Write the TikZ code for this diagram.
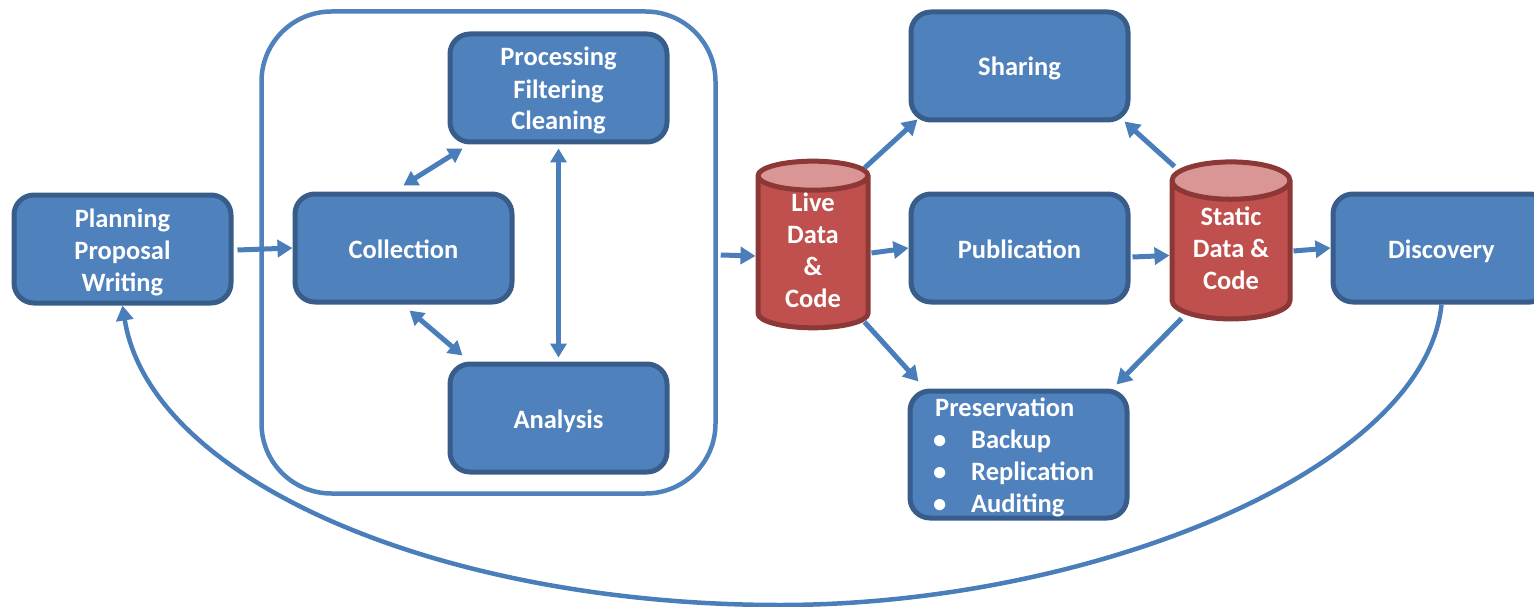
\documentclass[tikz,border=0pt]{standalone}
\usepackage{fontspec}
\setmainfont{Carlito}
\usetikzlibrary{arrows.meta,shapes.geometric}
\definecolor{boxblue}{HTML}{4F81BD}
\definecolor{boxedge}{HTML}{385D8A}
\definecolor{linkblue}{HTML}{4A7EBB}
\definecolor{drumred}{HTML}{C0504D}
\definecolor{drumedge}{HTML}{8C3836}
\definecolor{drumtop}{HTML}{D99694}
\newcommand{\firstline}{\rule{0pt}{26pt}}
\tikzset{
	stagetext/.style={text=white,inner sep=0pt,font=\fontsize{26.5}{32}\selectfont\bfseries,execute at begin node={\rule{0pt}{26pt}},execute at end node={\rule[-6pt]{0pt}{6pt}}},
	stagebox/.style={stagetext,draw=boxedge,fill=boxblue,line width=5pt,rounded corners=20pt,minimum width=217pt,minimum height=108pt,align=center},
	drum/.style={stagetext,cylinder,shape border rotate=90,draw=drumedge,line width=5pt,cylinder uses custom fill,cylinder body fill=drumred,cylinder end fill=drumtop,align=center},
	flow/.style={draw=linkblue,line width=5pt,-{Triangle[length=15pt,width=17pt]}},
	both/.style={draw=linkblue,line width=5pt,{Triangle[length=14pt,width=16pt]}-{Triangle[length=14pt,width=16pt]}},
}
\begin{document}
\begin{tikzpicture}[x=1pt,y=-1pt]
	\clip (0,0) rectangle (1534,607);
	\node[draw=boxblue,line width=4.5pt,rounded corners=70pt,minimum width=454pt,minimum height=482pt] (lifecycle) at (488.5,252.5) {};
	\node[stagebox] (planning) at (122.5,249) {\firstline Planning\\Proposal\\Writing};
	\node[stagebox] (collection) at (403.5,248) {Collection};
	\node[stagebox] (processing) at (558.5,88) {\firstline Processing\\Filtering\\Cleaning};
	\node[stagebox] (analysis) at (558.5,418) {Analysis};
	\node[stagebox] (sharing) at (1019.5,66) {Sharing};
	\node[stagebox] (publication) at (1019.5,248) {Publication};
	\node[stagebox,minimum height=127pt] (preservation) at (1018.5,454.5) {};
	\node[stagetext,align=left,anchor=west] (preservationtext) at (935,458) {Preservation\\\makebox[36pt][l]{\hspace{-2pt}\textbullet}Backup\\\makebox[36pt][l]{\hspace{-2pt}\textbullet}Replication\\\makebox[36pt][l]{\hspace{-2pt}\textbullet}Auditing};
	\node[stagebox] (discovery) at (1441.5,248) {Discovery};
	\node[drum,minimum width=110pt,minimum height=152pt,aspect=0.52] (live) at (813,253) {Live\\Data\\\&\\Code};
	\node[drum,minimum width=118pt,minimum height=157pt,aspect=0.49] (static) at (1231,251) {Static\\Data \&\\Code};

	\draw[flow] ([xshift=4pt,yshift=-1pt]planning.east) -- (collection.west);
	\draw[flow] ([xshift=3pt,yshift=-2.5pt]lifecycle.east) -- ([yshift=-3pt]live.west);
	\draw[flow] ([xshift=1pt]live.east) -- (publication.west);
	\draw[flow] ([xshift=-6pt,yshift=85pt]live.east) -- ([xshift=9pt,yshift=3pt]sharing.south west);
	\draw[flow] ([xshift=-6pt,yshift=-69pt]live.east) -- ([xshift=11pt,yshift=7pt]preservation.north west);
	\draw[flow] ([xshift=2pt,yshift=-9pt]publication.east) -- ([yshift=-4.5pt]static.west);
	\draw[flow] ([xshift=5pt,yshift=84.5pt]static.west) -- ([xshift=-6pt,yshift=1pt]sharing.south east);
	\draw[flow] ([xshift=12pt,yshift=-67.5pt]static.west) -- ([xshift=-13pt,yshift=4pt]preservation.north east);
	\draw[flow] ([xshift=1pt]static.east) -- (discovery.west);
	\draw[both] ([yshift=-4pt]processing.south) -- ([yshift=4pt]analysis.north);
	\draw[both] ([yshift=6pt]collection.north) -- ([xshift=15pt,yshift=-4pt]processing.south west);
	\draw[both] ([xshift=6pt,yshift=-6pt]collection.south) -- ([xshift=15pt,yshift=6pt]analysis.north west);
	\draw[draw=linkblue,line width=4.5pt,-{Triangle[length=15pt,width=17pt]}] (discovery.south) .. controls (1425,470) and (1090,605) .. (780,605) .. controls (440,605) and (150,480) .. (planning.south);
\end{tikzpicture}
\end{document}
